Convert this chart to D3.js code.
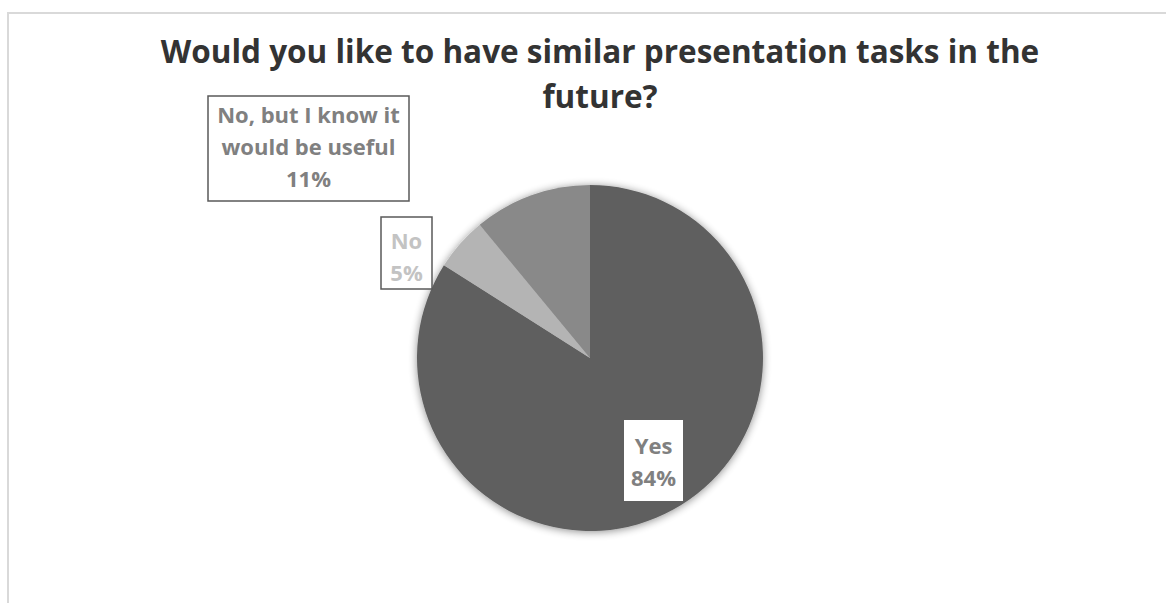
<!DOCTYPE html>
<html><head><meta charset="utf-8">
<script src="https://cdn.jsdelivr.net/npm/d3@7"></script>
<style>html,body{margin:0;padding:0;background:#fff;overflow:hidden}</style>
</head><body>
<svg id="chart" width="1166" height="603"></svg>
<script>
const categories = ["Yes", "No", "No, but I know it would be useful"];
const values = [84, 5, 11];
const labelLines = [["Yes", "84%"], ["No", "5%"], ["No, but I know it", "would be useful", "11%"]];
const titleLines = ["Would you like to have similar presentation tasks in the", "future?"];

const sliceColors = ["#5f5f5f", "#b4b4b4", "#898989"];
const labelColors = ["#808080", "#c3c3c3", "#808080"];

const svg = d3.select("#chart");

// chart area border
svg.append("rect").attr("x", 8).attr("y", 13).attr("width", 1200).attr("height", 640)
  .attr("fill", "#fff").attr("stroke", "#d9d9d9").attr("stroke-width", 2);

// title
const title = svg.append("text").attr("text-anchor", "middle")
  .attr("font-family", "Open Sans").attr("font-weight", "bold").attr("font-size", 31.5).attr("fill", "#333333");
titleLines.forEach((t, i) => title.append("tspan").attr("x", 600).attr("y", 63 + i * 45).text(t));

const defs = svg.append("defs");
const f = defs.append("filter").attr("id", "shadow").attr("x", "-20%").attr("y", "-20%").attr("width", "140%").attr("height", "140%");
f.append("feGaussianBlur").attr("in", "SourceAlpha").attr("stdDeviation", 4).attr("result", "b");
f.append("feOffset").attr("in", "b").attr("dx", 0).attr("dy", 1).attr("result", "o");
f.append("feComponentTransfer").attr("in", "o").attr("result", "s")
  .append("feFuncA").attr("type", "linear").attr("slope", 0.45);
const m = f.append("feMerge");
m.append("feMergeNode").attr("in", "s");
m.append("feMergeNode").attr("in", "SourceGraphic");

const cx = 590, cy = 358, R = 173;
const pie = d3.pie().sort(null).value(d => d)(values);
const arc = d3.arc().innerRadius(0).outerRadius(R);
const g = svg.append("g").attr("transform", `translate(${cx},${cy})`);
const pg = g.append("g").attr("filter", "url(#shadow)");
pg.selectAll("path").data(pie).join("path")
  .attr("d", arc).attr("fill", (d, i) => sliceColors[i]);

// label boxes (layout positions)
const boxes = [
  {x: 624, y: 420, w: 59, h: 81, fill: "#fff", stroke: "none"},
  {x: 381, y: 217, w: 51, h: 72, fill: "#fff", stroke: "#595959"},
  {x: 208, y: 96, w: 201, h: 105, fill: "#fff", stroke: "#595959"}
];
const firstBaseline = [454, 249, 123];
const lineGap = [32, 32, 32];
boxes.forEach((b, i) => {
  svg.append("rect").attr("x", b.x).attr("y", b.y).attr("width", b.w).attr("height", b.h)
    .attr("fill", b.fill).attr("stroke", b.stroke).attr("stroke-width", 1.5);
  const t = svg.append("text").attr("text-anchor", "middle")
    .attr("font-family", "Open Sans").attr("font-weight", "bold").attr("font-size", 22)
    .attr("fill", labelColors[i]);
  labelLines[i].forEach((s, j) => t.append("tspan").attr("x", b.x + b.w / 2)
    .attr("y", firstBaseline[i] + j * lineGap[i]).text(s));
});
</script>
</body></html>
